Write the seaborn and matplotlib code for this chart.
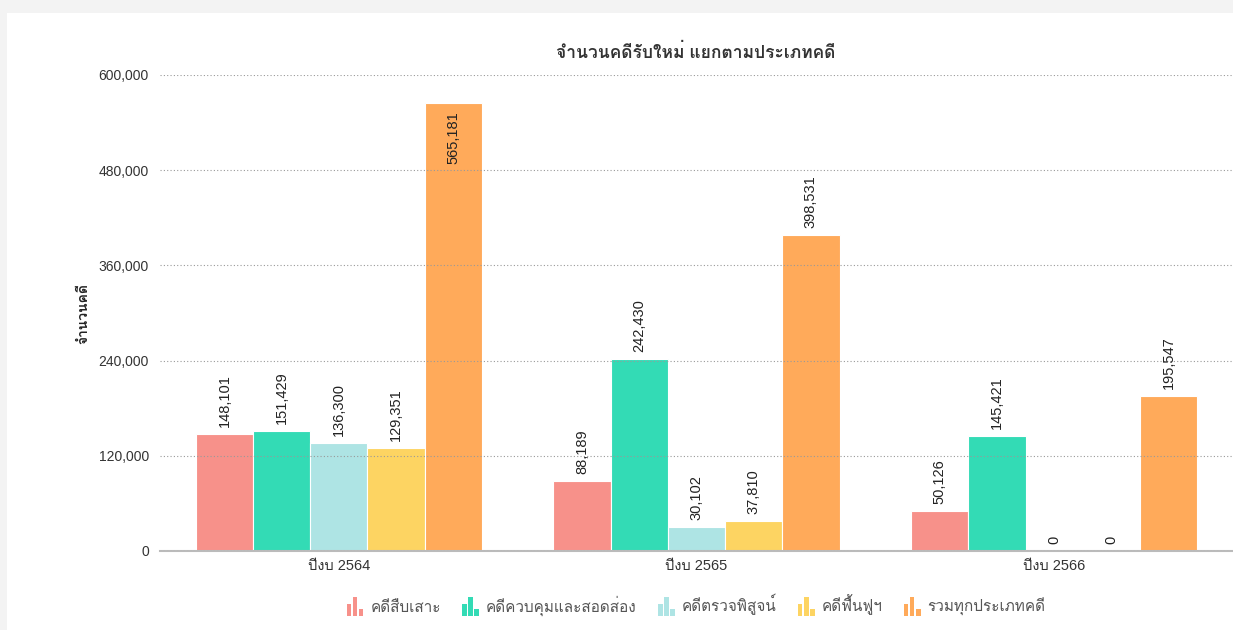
import matplotlib
matplotlib.use('Agg')
import matplotlib.pyplot as plt
import pandas as pd
import seaborn as sns
from matplotlib import font_manager, ft2font
from matplotlib.patches import Rectangle
from matplotlib.legend_handler import HandlerBase
from matplotlib.ticker import FuncFormatter

# Data
years = ['ปีงบ 2564', 'ปีงบ 2565', 'ปีงบ 2566']
categories = ['คดีสืบเสาะ', 'คดีควบคุมและสอดส่อง', 'คดีตรวจพิสูจน์', 'คดีฟื้นฟูฯ', 'รวมทุกประเภทคดี']
v_suebsao = [148101, 88189, 50126]
v_khuapkhum = [151429, 242430, 145421]
v_truat = [136300, 30102, 0]
v_fuenfu = [129351, 37810, 0]
v_ruam = [565181, 398531, 195547]
colors = ['#F7918A', '#33DBB5', '#AEE4E4', '#FDD462', '#FFAA5A']

rows = []
for cat, vals in zip(categories, [v_suebsao, v_khuapkhum, v_truat, v_fuenfu, v_ruam]):
    for y, v in zip(years, vals):
        rows.append({'year': y, 'cat': cat, 'value': v})
df = pd.DataFrame(rows)

# find a font that has Thai glyphs
thai_font = None
for f in font_manager.fontManager.ttflist:
    try:
        if ord('ก') in ft2font.FT2Font(f.fname).get_charmap():
            thai_font = f.name
            break
    except Exception:
        pass

sns.set_style('white')
fams = ['Liberation Sans'] + ([thai_font] if thai_font else []) + ['DejaVu Sans']
plt.rcParams['font.family'] = fams

fig = plt.figure(figsize=(12.33, 6.3), dpi=100)
fig.patch.set_facecolor('#f3f3f3')
fig.add_artist(Rectangle((7 / 1233, 0), 1, 1 - 13 / 630, transform=fig.transFigure,
                         facecolor='white', edgecolor='none', zorder=0))
ax = fig.add_axes([160 / 1233, 1 - 551 / 630, 1 - 160 / 1233, (551 - 75) / 630])
ax.set_facecolor('none')

sns.barplot(data=df, x='year', y='value', hue='cat', palette=colors, width=0.8, saturation=1,
            ax=ax, legend=False, edgecolor='#ffffff', linewidth=0.8, zorder=2)

ymax = 600000
for cont in ax.containers:
    for b in cont:
        h = b.get_height()
        xc = b.get_x() + b.get_width() / 2
        if h + 72000 > ymax:
            # label would overflow the plot, so it goes inside the bar
            ax.annotate(f'{h:,.0f}', (xc, h), xytext=(0, -6), textcoords='offset points',
                        rotation=90, ha='center', va='top', fontsize=10.5, color='#222222', zorder=4)
        else:
            ax.annotate(f'{h:,.0f}', (xc, h), xytext=(0, 5), textcoords='offset points',
                        rotation=90, ha='center', va='bottom', fontsize=10.5, color='#222222', zorder=4)

ax.set_ylim(0, ymax)
ax.set_xlim(-0.5, 2.5)
ax.set_yticks(range(0, ymax + 1, 120000))
ax.yaxis.set_major_formatter(FuncFormatter(lambda v, p: f'{v:,.0f}'))
ax.grid(axis='y', linestyle=(0, (1, 2)), color='#999999', linewidth=0.8, zorder=3)
ax.set_axisbelow(False)
for s in ['top', 'right', 'left']:
    ax.spines[s].set_visible(False)
ax.spines['bottom'].set_color('#bbbbbb')
ax.spines['bottom'].set_linewidth(1.5)
ax.tick_params(axis='y', length=0, pad=8, labelsize=10, labelcolor='#333333')
ax.tick_params(axis='x', length=0, pad=6, labelsize=10.5, labelcolor='#333333')
ax.set_xlabel('')
ax.set_ylabel('จำนวนคดี', fontsize=10, fontweight='bold', color='#222222', labelpad=6)
fig.text(696 / 1233, 1 - 52 / 630, 'จำนวนคดีรับใหม่ แยกตามประเภทคดี', ha='center', va='center',
         fontsize=12.5, fontweight='bold', color='#333333')


class BarIcon(HandlerBase):
    # little three-bar glyph used as the legend symbol
    def create_artists(self, legend, orig_handle, xdescent, ydescent, width, height, fontsize, trans):
        c = orig_handle.get_facecolor()
        bw = width / 3.6
        gap = bw * 0.3
        hs = [0.6, 1.0, 0.35]
        arts = []
        for i, h in enumerate(hs):
            r = Rectangle((-xdescent + i * (bw + gap), -ydescent - 0.25 * height), bw, h * height * 1.5,
                          facecolor=c, edgecolor='none', transform=trans)
            arts.append(r)
        return arts


handles = [Rectangle((0, 0), 1, 1, facecolor=c) for c in colors]
fig.legend(handles, categories, loc='center', bbox_to_anchor=(696 / 1233, 1 - 605 / 630),
           ncol=5, frameon=False, fontsize=11, labelcolor='#555555',
           handlelength=1.1, handleheight=0.9, handletextpad=0.45, columnspacing=1.4,
           handler_map={Rectangle: BarIcon()})

plt.savefig('out.png', dpi=100)
plt.close()
